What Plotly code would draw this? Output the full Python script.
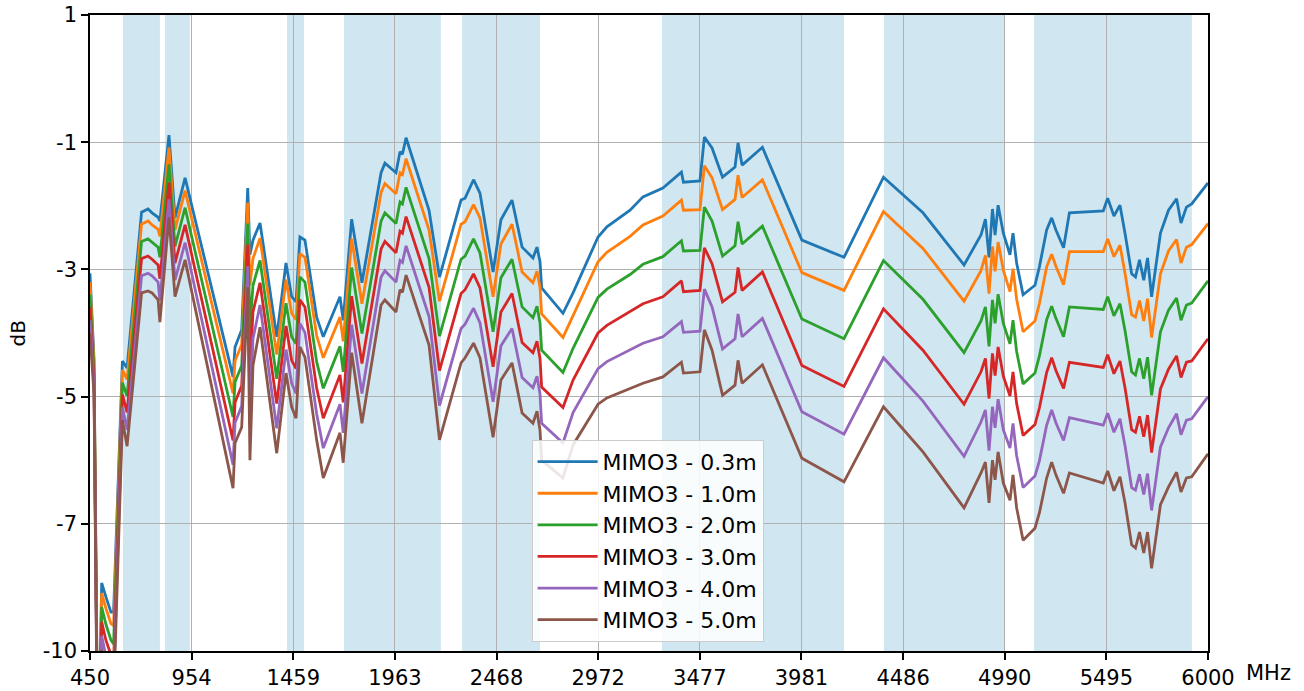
import plotly.graph_objects as go

# ---------------- data ----------------
freq_mhz = [450, 470, 490, 508, 529, 554, 567, 611, 634, 706, 738, 758, 788, 797, 842, 872, 922,
            1160, 1170, 1203, 1233, 1244, 1259, 1294, 1377, 1423, 1451, 1473, 1492, 1517, 1575, 1608,
            1691, 1707, 1749, 1800, 1895, 1914, 1969, 1989, 2001, 2019, 2133, 2185, 2292, 2312, 2354,
            2386, 2451, 2490, 2545, 2595, 2649, 2669, 2684, 2692, 2798, 2848, 2972, 3016, 3131, 3195,
            3294, 3386, 3396, 3478, 3500, 3538, 3590, 3652, 3667, 3687, 3788, 3984, 4193, 4389, 4585,
            4789, 4873, 4895, 4913, 4930, 4943, 4958, 4984, 5017, 5032, 5050, 5082, 5141, 5163, 5199,
            5224, 5245, 5283, 5312, 5480, 5502, 5533, 5563, 5588, 5621, 5640, 5660, 5681, 5700, 5720,
            5764, 5804, 5844, 5866, 5893, 5919, 6000]

mimo3_0_3m = [-3.06, -4.42, -11.0, -7.93, -8.15, -8.39, -8.39, -4.44, -4.55, -2.10, -2.05, -2.11, -2.18, -2.24, -0.89, -2.19, -1.56,
              -4.69, -4.22, -3.95, -1.72, -2.77, -2.54, -2.27, -4.06, -2.90, -3.43, -3.51, -2.49, -2.54, -3.75, -4.06,
              -3.43, -3.80, -2.21, -3.21, -1.48, -1.33, -1.48, -1.15, -1.19, -0.93, -2.07, -3.12, -1.91, -1.88, -1.59,
              -1.80, -3.04, -2.22, -1.91, -2.65, -2.82, -2.65, -2.88, -3.29, -3.69, -3.37, -2.49, -2.33, -2.07, -1.86,
              -1.72, -1.47, -1.63, -1.61, -0.92, -1.09, -1.55, -1.39, -1.01, -1.36, -1.08, -2.54, -2.81, -1.55, -2.11,
              -2.93, -2.46, -2.21, -2.81, -2.05, -2.46, -1.99, -2.43, -2.77, -2.43, -2.90, -3.40, -3.25, -2.96, -2.38,
              -2.19, -2.38, -2.66, -2.11, -2.08, -1.88, -2.16, -1.99, -2.43, -3.07, -3.12, -2.85, -3.17, -2.82, -3.43,
              -2.43, -2.07, -1.89, -2.27, -2.02, -1.97, -1.64]

mimo3_1_0m = [-3.20, -4.50, -11.1, -8.09, -8.33, -8.57, -8.60, -4.58, -4.73, -2.29, -2.24, -2.30, -2.37, -2.48, -1.08, -2.38, -1.76,
              -4.95, -4.44, -4.18, -1.95, -3.25, -2.83, -2.51, -4.34, -3.16, -3.69, -3.79, -2.75, -2.81, -4.04, -4.39,
              -3.75, -4.13, -2.52, -3.54, -1.79, -1.65, -1.81, -1.48, -1.51, -1.26, -2.38, -3.50, -2.29, -2.25, -1.98,
              -2.19, -3.43, -2.60, -2.29, -3.04, -3.21, -3.03, -3.28, -3.70, -4.07, -3.73, -2.88, -2.73, -2.48, -2.30,
              -2.16, -1.91, -2.07, -2.06, -1.37, -1.56, -2.06, -1.90, -1.52, -1.87, -1.59, -3.05, -3.33, -2.09, -2.67,
              -3.50, -3.02, -2.78, -3.38, -2.64, -3.03, -2.57, -3.01, -3.35, -2.99, -3.47, -3.98, -3.81, -3.54, -2.96,
              -2.76, -2.95, -3.24, -2.72, -2.72, -2.52, -2.80, -2.62, -3.06, -3.71, -3.75, -3.49, -3.81, -3.46, -4.07,
              -3.07, -2.71, -2.53, -2.90, -2.65, -2.61, -2.28]

mimo3_2_0m = [-3.40, -4.62, -11.2, -8.31, -8.58, -8.83, -8.89, -4.78, -4.99, -2.56, -2.52, -2.57, -2.65, -2.81, -1.35, -2.64, -2.03,
              -5.32, -4.77, -4.51, -2.28, -3.94, -3.25, -2.86, -4.72, -3.53, -4.06, -4.17, -3.12, -3.20, -4.45, -4.87,
              -4.21, -4.61, -2.97, -4.01, -2.24, -2.11, -2.28, -1.94, -1.97, -1.71, -2.83, -4.05, -2.84, -2.79, -2.52,
              -2.74, -3.98, -3.13, -2.84, -3.59, -3.76, -3.58, -3.84, -4.27, -4.62, -4.24, -3.44, -3.31, -3.08, -2.92,
              -2.80, -2.55, -2.71, -2.70, -2.02, -2.24, -2.79, -2.63, -2.25, -2.60, -2.32, -3.78, -4.09, -2.86, -3.47,
              -4.31, -3.81, -3.59, -4.21, -3.48, -3.85, -3.39, -3.85, -4.17, -3.80, -4.29, -4.80, -4.63, -4.36, -3.79,
              -3.58, -3.77, -4.06, -3.59, -3.63, -3.43, -3.73, -3.54, -3.96, -4.61, -4.66, -4.40, -4.72, -4.38, -4.98,
              -3.98, -3.64, -3.45, -3.80, -3.56, -3.53, -3.18]

mimo3_3_0m = [-3.60, -4.74, -11.3, -8.54, -8.83, -9.09, -9.18, -4.97, -5.25, -2.83, -2.79, -2.84, -2.93, -3.15, -1.63, -2.90, -2.30,
              -5.69, -5.09, -4.83, -2.61, -4.63, -3.67, -3.21, -5.11, -3.89, -4.43, -4.56, -3.48, -3.59, -4.86, -5.34,
              -4.66, -5.09, -3.42, -4.48, -2.68, -2.56, -2.74, -2.40, -2.43, -2.17, -3.28, -4.59, -3.38, -3.32, -3.07,
              -3.29, -4.53, -3.67, -3.38, -4.15, -4.31, -4.13, -4.40, -4.85, -5.17, -4.74, -4.00, -3.88, -3.67, -3.54,
              -3.43, -3.18, -3.35, -3.33, -2.66, -2.91, -3.51, -3.36, -2.97, -3.33, -3.04, -4.51, -4.84, -3.62, -4.27,
              -5.12, -4.61, -4.40, -5.03, -4.32, -4.67, -4.22, -4.68, -4.99, -4.61, -5.11, -5.61, -5.44, -5.18, -4.62,
              -4.39, -4.59, -4.87, -4.46, -4.54, -4.34, -4.64, -4.44, -4.86, -5.52, -5.56, -5.31, -5.63, -5.29, -5.88,
              -4.88, -4.57, -4.36, -4.70, -4.46, -4.44, -4.09]

mimo3_4_0m = [-3.80, -4.85, -11.4, -8.76, -9.08, -9.35, -9.48, -5.17, -5.52, -3.10, -3.06, -3.10, -3.20, -3.49, -1.90, -3.17, -2.58,
              -6.07, -5.41, -5.15, -2.95, -5.31, -4.09, -3.56, -5.50, -4.26, -4.79, -4.95, -3.85, -3.99, -5.27, -5.81,
              -5.12, -5.57, -3.87, -4.95, -3.12, -3.02, -3.20, -2.86, -2.89, -2.63, -3.74, -5.14, -3.93, -3.86, -3.61,
              -3.84, -5.08, -4.20, -3.93, -4.70, -4.86, -4.68, -4.96, -5.42, -5.73, -5.25, -4.56, -4.45, -4.27, -4.16,
              -4.06, -3.82, -3.99, -3.97, -3.31, -3.59, -4.25, -4.09, -3.70, -4.06, -3.77, -5.24, -5.59, -4.39, -5.07,
              -5.94, -5.40, -5.21, -5.85, -5.16, -5.49, -5.04, -5.52, -5.81, -5.42, -5.93, -6.43, -6.25, -6.01, -5.45,
              -5.21, -5.41, -5.69, -5.33, -5.45, -5.26, -5.56, -5.35, -5.77, -6.43, -6.47, -6.22, -6.54, -6.21, -6.79,
              -5.79, -5.49, -5.27, -5.60, -5.37, -5.35, -5.00]

mimo3_5_0m = [-4.00, -4.97, -11.5, -8.98, -9.33, -9.61, -9.77, -5.37, -5.78, -3.37, -3.34, -3.37, -3.48, -3.83, -2.18, -3.43, -2.85,
              -6.44, -5.73, -5.48, -3.28, -6.00, -4.51, -3.91, -5.89, -4.63, -5.16, -5.34, -4.22, -4.38, -5.68, -6.28,
              -5.57, -6.04, -4.31, -5.42, -3.56, -3.48, -3.67, -3.32, -3.36, -3.09, -4.19, -5.68, -4.47, -4.39, -4.16,
              -4.39, -5.64, -4.74, -4.47, -5.26, -5.42, -5.23, -5.53, -6.00, -6.28, -5.76, -5.12, -5.02, -4.87, -4.79,
              -4.69, -4.46, -4.63, -4.61, -3.95, -4.27, -4.98, -4.82, -4.43, -4.79, -4.50, -5.97, -6.34, -5.16, -5.87,
              -6.75, -6.20, -6.03, -6.67, -6.00, -6.31, -5.87, -6.36, -6.63, -6.23, -6.75, -7.26, -7.07, -6.83, -6.28,
              -6.03, -6.23, -6.52, -6.20, -6.36, -6.17, -6.48, -6.26, -6.67, -7.33, -7.38, -7.13, -7.46, -7.13, -7.70,
              -6.70, -6.42, -6.19, -6.50, -6.28, -6.26, -5.90]

series_names = ["MIMO3 - 0.3m", "MIMO3 - 1.0m", "MIMO3 - 2.0m", "MIMO3 - 3.0m", "MIMO3 - 4.0m", "MIMO3 - 5.0m"]
series_values = [mimo3_0_3m, mimo3_1_0m, mimo3_2_0m, mimo3_3_0m, mimo3_4_0m, mimo3_5_0m]
series_colors = ["#1f77b4", "#ff7f0e", "#2ca02c", "#d62728", "#9467bd", "#8c564b"]

# shaded frequency bands (MHz)
band_start = [614, 822, 1428, 1711, 2297, 3289, 4391, 5136]
band_end = [797, 946, 1512, 2192, 2684, 4193, 4987, 5920]

x_tick_vals = [450, 954.5, 1459.1, 1963.6, 2468.2, 2972.7, 3477.3, 3981.8, 4486.4, 4990.9, 5495.5, 6000]
x_tick_text = ["450", "954", "1459", "1963", "2468", "2972", "3477", "3981", "4486", "4990", "5495", "6000"]
y_tick_vals = [1, -1, -3, -5, -7, -9]
y_tick_text = ["1", "-1", "-3", "-5", "-7", "-10"]

for s in series_values:
    if len(s) != len(freq_mhz):
        raise ValueError(f"length mismatch {len(s)} vs {len(freq_mhz)}")

# ---------------- figure ----------------
FONT = "DejaVu Sans"
fig = go.Figure()
for name, vals, col in zip(series_names, series_values, series_colors):
    fig.add_trace(go.Scatter(x=freq_mhz, y=vals, mode="lines", name=name,
                             line=dict(color=col, width=2.8)))

for x0, x1 in zip(band_start, band_end):
    fig.add_shape(type="rect", xref="x", yref="paper", x0=x0, x1=x1, y0=0, y1=1,
                  fillcolor="#d0e6f0", line=dict(width=0), layer="below")

axis_common = dict(showline=True, mirror=True, linecolor="black", linewidth=1.5,
                   ticks="outside", ticklen=7, tickwidth=1.5, tickcolor="black",
                   showgrid=True, gridcolor="#b0b0b0", gridwidth=1.3, zeroline=False,
                   automargin=False,
                   tickfont=dict(family=FONT, size=21, color="black"))

fig.update_xaxes(range=[450, 6000], tickmode="array", tickvals=x_tick_vals, ticktext=x_tick_text,
                 **axis_common)
fig.update_yaxes(range=[-9, 1], tickmode="array", tickvals=y_tick_vals, ticktext=y_tick_text,
                 **axis_common)

fig.add_annotation(text="dB", xref="paper", yref="paper", x=-0.064, y=0.5, textangle=-90,
                   showarrow=False, xanchor="center", yanchor="middle",
                   font=dict(family=FONT, size=20, color="black"))
fig.add_annotation(text="MHz", xref="paper", yref="paper", x=1.032, y=-0.034,
                   showarrow=False, xanchor="left", yanchor="middle",
                   font=dict(family=FONT, size=21, color="black"))

fig.update_layout(
    width=1304, height=691,
    margin=dict(l=90, r=96, t=15, b=40, autoexpand=False),
    plot_bgcolor="white", paper_bgcolor="white",
    font=dict(family=FONT, size=21, color="black"),
    showlegend=True,
    legend=dict(x=0.395, y=0.332, xanchor="left", yanchor="top",
                bgcolor="rgba(255,255,255,0.85)", bordercolor="#cccccc", borderwidth=1,
                font=dict(family=FONT, size=22, color="black"),
                itemwidth=60, tracegroupgap=0),
)

fig.write_html("out.html", config={"displayModeBar": False},
               post_script="document.body.style.margin='0';")
